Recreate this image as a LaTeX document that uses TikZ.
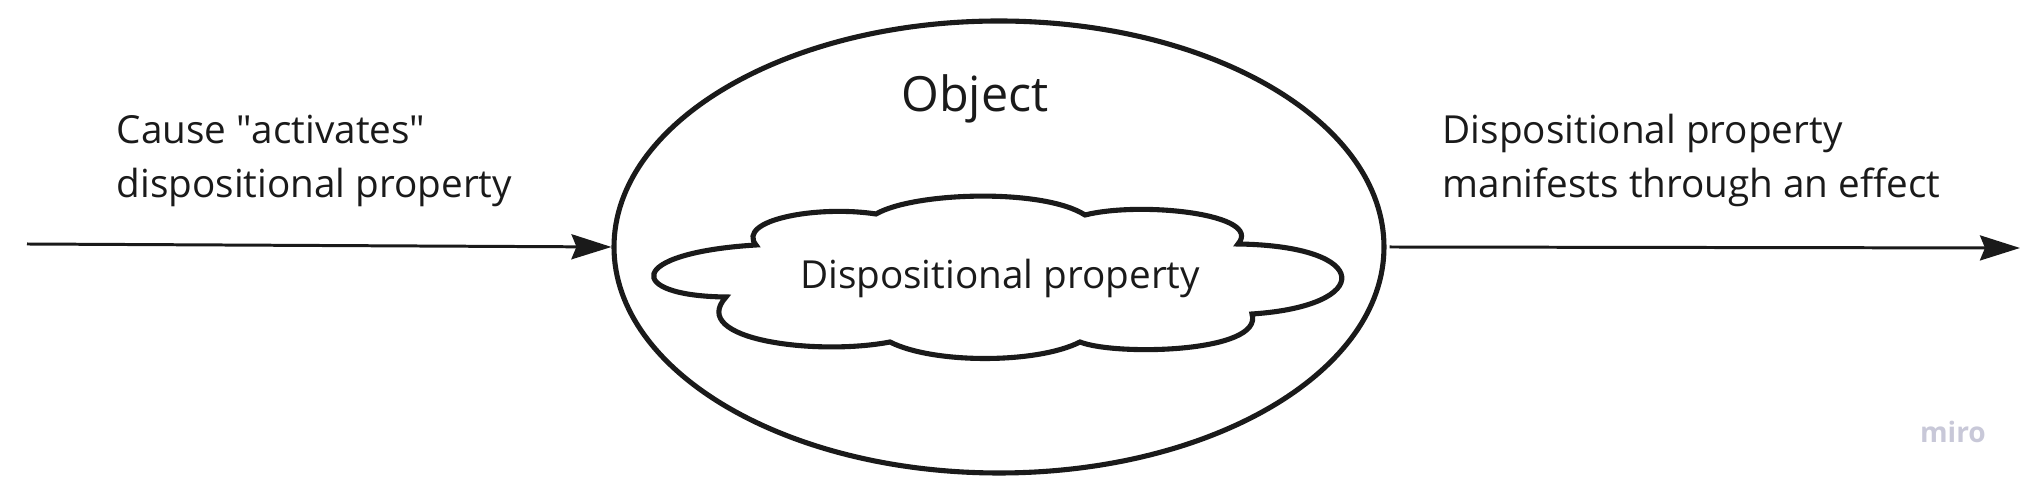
\documentclass[tikz,border=0pt]{standalone}
\usepackage{fontspec}
\setmainfont{Open Sans}
\usetikzlibrary{shapes.geometric, arrows.meta}
\definecolor{miroGray}{RGB}{200,200,216}
\definecolor{inkBlack}{RGB}{26,26,26}
\begin{document}
\begin{tikzpicture}[
        x=0.1mm, y=-0.1mm,
        txt/.style={font=\fontsize{11}{15.5}\selectfont, align=left, inner sep=0pt, text=inkBlack},
        outline/.style={draw=inkBlack, line width=1.45pt},
        arrow/.style={-{Stealth[length=4.0mm, width=2.5mm, inset=0.5mm]}, line width=0.85pt, draw=inkBlack}
    ]
        \useasboundingbox (0,0) rectangle (2032,491);

        % Object
        \node[outline, ellipse, minimum width=77.0mm, minimum height=45.2mm, inner sep=0pt] (object) at (999,247) {};
        \node[txt, font=\fontsize{13.8}{16}\selectfont, anchor=base] (objtitle) at (975,112) {Object};

        % Dispositional property (cloud)
        \draw[outline, fill=white] (756,245)
            .. controls (736,220) and (817,205) .. (876,214)
            .. controls (914,192) and (1043,188) .. (1085,215)
            .. controls (1141,201) and (1264,214) .. (1238,244)
            .. controls (1374,246) and (1374,306) .. (1252,314)
            .. controls (1264,353) and (1115,356) .. (1080,342)
            .. controls (1037,364) and (933,364) .. (890,342)
            .. controls (817,356) and (687,340) .. (726,297)
            .. controls (625,296) and (625,253) .. cycle;
        \node[txt, anchor=base] (prop) at (1000,289) {Dispositional property};

        % Cause
        \coordinate (cause) at (27,244);
        \node[txt, anchor=base west] (causetext) at (116,198) {Cause \textquotedbl activates\textquotedbl\\dispositional property};

        % Effect
        \coordinate (effect) at (2020,248);
        \node[txt, anchor=base west] (effecttext) at (1442,198) {Dispositional property\\manifests through an effect};

        % Watermark
        \node[txt, font=\fontsize{8}{10}\bfseries\selectfont, text=miroGray, anchor=base] (miro) at (1953,443) {miro};

        \draw[arrow] (cause) -- (object.west);
        \draw[arrow] ([xshift=0.3mm]object.east) -- (effect);
    \end{tikzpicture}
\end{document}
